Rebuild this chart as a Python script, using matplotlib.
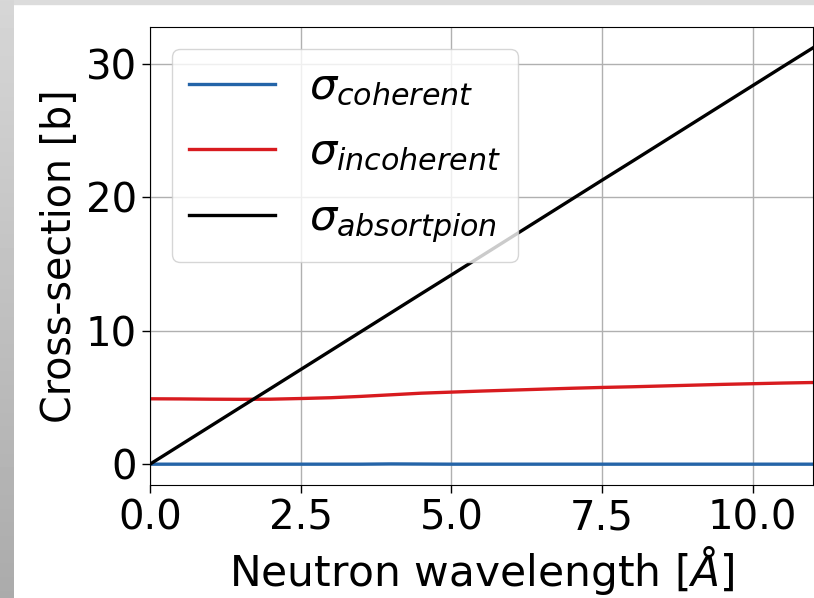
import matplotlib
matplotlib.use("Agg")
import matplotlib.pyplot as plt
import numpy as np

# wavelength [Angstrom]
wavelength = [0.0, 0.5, 1.0, 1.5, 2.0, 2.5, 3.0, 3.5, 4.0, 4.5, 5.0, 5.5, 6.0,
              6.5, 7.0, 7.5, 8.0, 8.5, 9.0, 9.5, 10.0, 10.5, 11.0]
sigma_coh = [0.0, 0.0, 0.0, 0.0, 0.0, 0.0, 0.0, 0.0, 0.02, 0.01, 0.0, 0.0, 0.0,
             0.0, 0.0, 0.0, 0.0, 0.0, 0.0, 0.0, 0.0, 0.0, 0.0]
sigma_inc = [4.90, 4.89, 4.87, 4.86, 4.87, 4.92, 4.98, 5.08, 5.20, 5.32, 5.40, 5.48, 5.55,
             5.62, 5.69, 5.75, 5.80, 5.86, 5.92, 5.98, 6.03, 6.08, 6.12]
sigma_abs = [0.0, 1.42, 2.84, 4.26, 5.67, 7.09, 8.51, 9.93, 11.35, 12.77, 14.18, 15.60, 17.02,
             18.44, 19.86, 21.28, 22.69, 24.11, 25.53, 26.95, 28.37, 29.79, 31.20]

labels = [r"$\sigma_{coherent}$", r"$\sigma_{incoherent}$", r"$\sigma_{absortpion}$"]
colors = ["#2464a8", "#d81b1f", "#000000"]

fig = plt.figure(figsize=(8.14, 5.98), dpi=100)

# grey border of the screenshot
grad = np.linspace(0.84, 0.67, 598)[:, None] * np.ones((1, 14))
fig.figimage(grad, xo=0, yo=0, cmap="gray", vmin=0, vmax=1, origin="upper")
fig.patches.append(plt.Rectangle((0, 594 / 598), 1, 4 / 598, transform=fig.transFigure,
                                 color="#dcdcdc", zorder=0))

ax = fig.add_axes([150 / 814, 113 / 598, 663 / 814, 458 / 598])
for y, lab, c in zip([sigma_coh, sigma_inc, sigma_abs], labels, colors):
    ax.plot(wavelength, y, color=c, lw=2.4, label=lab)

ax.set_xlim(0, 11)
ax.set_ylim(-1.56, 32.76)
ax.set_xticks([0.0, 2.5, 5.0, 7.5, 10.0])
ax.set_yticks([0, 10, 20, 30])
ax.grid(True, color="#b0b0b0", lw=1)
ax.tick_params(labelsize=29, length=6, width=1)
ax.set_xlabel(r"Neutron wavelength [$\AA$]", fontsize=30.5)
ax.set_ylabel("Cross-section [b]", fontsize=28.5)
ax.legend(loc="upper left", fontsize=31, handlelength=2.0, labelspacing=0.55)

fig.savefig("out.png", dpi=100)
